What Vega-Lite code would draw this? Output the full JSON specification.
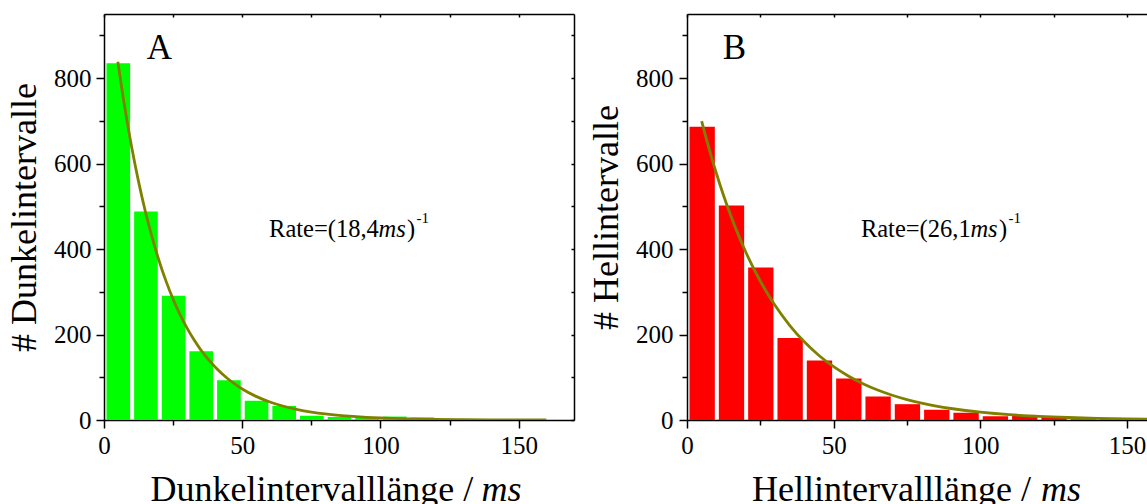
{
  "$schema": "https://vega.github.io/schema/vega-lite/v6.json",
  "background": "white",
  "padding": {"left": 6, "top": 13, "right": 0, "bottom": 0},
  "autosize": {"type": "pad"},
  "spacing": 13,
  "config": {
    "view": {"stroke": null},
    "font": "Liberation Serif",
    "style": {
      "guide-label": {"font": "Liberation Serif", "fontSize": 25, "fill": "black"},
      "guide-title": {"font": "Liberation Serif", "fontSize": 36, "fill": "black", "fontWeight": "normal"}
    },
    "axis": {
      "grid": false,
      "domainColor": "black",
      "tickColor": "black",
      "labelColor": "black",
      "titleColor": "black",
      "labelFont": "Liberation Serif",
      "titleFont": "Liberation Serif",
      "labelFontSize": 25,
      "titleFontSize": 36,
      "titleFontWeight": "normal",
      "domainWidth": 1.5,
      "tickWidth": 1.5,
      "labelPadding": 5
    },
    "text": {"font": "Liberation Serif", "color": "black"}
  },
  "hconcat": [
    {
      "width": 470,
      "height": 406,
      "resolve": {"axis": {"x": "independent", "y": "independent"}},
      "layer": [
        {
          "data": {"values": [
            {"start": 0, "end": 10, "count": 835},
            {"start": 10, "end": 20, "count": 488},
            {"start": 20, "end": 30, "count": 291},
            {"start": 30, "end": 40, "count": 161},
            {"start": 40, "end": 50, "count": 93},
            {"start": 50, "end": 60, "count": 45},
            {"start": 60, "end": 70, "count": 33},
            {"start": 70, "end": 80, "count": 10},
            {"start": 80, "end": 90, "count": 7},
            {"start": 90, "end": 100, "count": 5},
            {"start": 100, "end": 110, "count": 8},
            {"start": 110, "end": 120, "count": 6},
            {"start": 120, "end": 130, "count": 2},
            {"start": 130, "end": 140, "count": 1},
            {"start": 140, "end": 150, "count": 1},
            {"start": 150, "end": 160, "count": 2}
          ]},
          "mark": {"type": "bar", "color": "#00ff00", "binSpacing": 4, "clip": true},
          "encoding": {
            "x": {"field": "start", "type": "quantitative", "bin": "binned",
              "scale": {"domain": [0, 170], "nice": false, "zero": false},
              "axis": {"orient": "bottom", "values": [0, 50, 100, 150], "tickSize": 8, "title": null, "labelFlush": false, "labelFont": "Liberation Serif", "labelFontSize": 25, "labelColor": "black", "labelPadding": 5}},
            "x2": {"field": "end"},
            "y": {"field": "count", "type": "quantitative",
              "scale": {"domain": [0, 950], "nice": false},
              "axis": {"orient": "left", "values": [0, 200, 400, 600, 800], "tickSize": 8, "title": "# Dunkelintervalle", "titlePadding": 10, "labelFont": "Liberation Serif", "labelFontSize": 25, "labelColor": "black", "labelPadding": 5, "titleFont": "Liberation Serif", "titleFontSize": 36, "titleFontWeight": "normal", "titleColor": "black"}}
          }
        },
        {
          "data": {"values": [
            {"x": 5, "y": 838.3}, {"x": 7.5, "y": 731.7}, {"x": 10, "y": 638.8}, {"x": 12.5, "y": 557.7},
            {"x": 15, "y": 486.8}, {"x": 17.5, "y": 424.9}, {"x": 20, "y": 370.9}, {"x": 22.5, "y": 323.8},
            {"x": 25, "y": 282.7}, {"x": 27.5, "y": 246.8}, {"x": 30, "y": 215.5}, {"x": 32.5, "y": 188.1},
            {"x": 35, "y": 164.1}, {"x": 40, "y": 125.1}, {"x": 45, "y": 95.3}, {"x": 50, "y": 72.6},
            {"x": 55, "y": 55.3}, {"x": 60, "y": 42.2}, {"x": 65, "y": 32.2}, {"x": 70, "y": 24.5},
            {"x": 75, "y": 18.7}, {"x": 80, "y": 14.2}, {"x": 85, "y": 10.8}, {"x": 90, "y": 8.3},
            {"x": 95, "y": 6.3}, {"x": 100, "y": 4.8}, {"x": 110, "y": 2.8}, {"x": 120, "y": 1.6},
            {"x": 130, "y": 0.9}, {"x": 140, "y": 0.5}, {"x": 150, "y": 0.3}, {"x": 160, "y": 0.2}
          ]},
          "mark": {"type": "line", "color": "#808000", "strokeWidth": 2.8, "interpolate": "monotone", "clip": true},
          "encoding": {
            "x": {"field": "x", "type": "quantitative",
              "axis": {"orient": "bottom", "values": [25, 75, 125], "tickSize": 5, "labels": false, "domain": false, "title": null}},
            "y": {"field": "y", "type": "quantitative",
              "axis": {"orient": "left", "values": [100, 300, 500, 700, 900], "tickSize": 5, "labels": false, "domain": false, "title": null}}
          }
        },
        {
          "data": {"values": [{"x": 0, "y": 0}, {"x": 170, "y": 950}]},
          "mark": {"type": "line", "opacity": 0},
          "encoding": {
            "x": {"field": "x", "type": "quantitative",
              "axis": {"orient": "top", "values": [0, 25, 50, 75, 100, 125, 150], "tickSize": -3, "labels": false, "title": null}},
            "y": {"field": "y", "type": "quantitative",
              "axis": {"orient": "right", "values": [0, 100, 200, 300, 400, 500, 600, 700, 800, 900], "tickSize": -3, "labels": false, "title": null}}
          }
        },
        {
          "data": {"values": [{}]},
          "mark": {"type": "text", "text": "A", "fontSize": 35, "align": "left", "baseline": "alphabetic"},
          "encoding": {"x": {"datum": 15.5, "type": "quantitative", "axis": null}, "y": {"datum": 845, "type": "quantitative", "axis": null}}
        },
        {
          "data": {"values": [{}]},
          "mark": {"type": "text", "text": "Rate=(18,4", "fontSize": 24.5, "align": "left", "baseline": "alphabetic"},
          "encoding": {"x": {"datum": 59.7, "type": "quantitative", "axis": null}, "y": {"datum": 428, "type": "quantitative", "axis": null}}
        },
        {
          "data": {"values": [{}]},
          "mark": {"type": "text", "text": "ms", "fontSize": 24.5, "fontStyle": "italic", "align": "left", "baseline": "alphabetic", "dx": 109.5},
          "encoding": {"x": {"datum": 59.7, "type": "quantitative", "axis": null}, "y": {"datum": 428, "type": "quantitative", "axis": null}}
        },
        {
          "data": {"values": [{}]},
          "mark": {"type": "text", "text": ")", "fontSize": 24.5, "align": "left", "baseline": "alphabetic", "dx": 138},
          "encoding": {"x": {"datum": 59.7, "type": "quantitative", "axis": null}, "y": {"datum": 428, "type": "quantitative", "axis": null}}
        },
        {
          "data": {"values": [{}]},
          "mark": {"type": "text", "text": "-1", "fontSize": 15, "align": "left", "baseline": "alphabetic", "dx": 147.5, "dy": -14},
          "encoding": {"x": {"datum": 59.7, "type": "quantitative", "axis": null}, "y": {"datum": 428, "type": "quantitative", "axis": null}}
        },
        {
          "data": {"values": [{}]},
          "mark": {"type": "text", "text": "Dunkelintervalllänge /", "fontSize": 36, "align": "right", "baseline": "alphabetic", "dy": 81},
          "encoding": {"x": {"datum": 133.6, "type": "quantitative", "axis": null}, "y": {"datum": 0, "type": "quantitative", "axis": null}}
        },
        {
          "data": {"values": [{}]},
          "mark": {"type": "text", "text": "ms", "fontSize": 36, "fontStyle": "italic", "align": "left", "baseline": "alphabetic", "dy": 81},
          "encoding": {"x": {"datum": 136.5, "type": "quantitative", "axis": null}, "y": {"datum": 0, "type": "quantitative", "axis": null}}
        }
      ]
    },
    {
      "width": 461,
      "height": 406,
      "resolve": {"axis": {"x": "independent", "y": "independent"}},
      "layer": [
        {
          "data": {"values": [
            {"start": 0, "end": 10, "count": 686},
            {"start": 10, "end": 20, "count": 502},
            {"start": 20, "end": 30, "count": 357},
            {"start": 30, "end": 40, "count": 192},
            {"start": 40, "end": 50, "count": 139},
            {"start": 50, "end": 60, "count": 97},
            {"start": 60, "end": 70, "count": 55},
            {"start": 70, "end": 80, "count": 37},
            {"start": 80, "end": 90, "count": 24},
            {"start": 90, "end": 100, "count": 17},
            {"start": 100, "end": 110, "count": 9},
            {"start": 110, "end": 120, "count": 12},
            {"start": 120, "end": 130, "count": 8},
            {"start": 130, "end": 140, "count": 2},
            {"start": 140, "end": 150, "count": 3},
            {"start": 150, "end": 160, "count": 3}
          ]},
          "mark": {"type": "bar", "color": "#ff0000", "binSpacing": 4, "clip": true},
          "encoding": {
            "x": {"field": "start", "type": "quantitative", "bin": "binned",
              "scale": {"domain": [0, 157.2], "nice": false, "zero": false},
              "axis": {"orient": "bottom", "values": [0, 50, 100, 150], "tickSize": 8, "title": null, "labelFlush": false, "labelFont": "Liberation Serif", "labelFontSize": 25, "labelColor": "black", "labelPadding": 5}},
            "x2": {"field": "end"},
            "y": {"field": "count", "type": "quantitative",
              "scale": {"domain": [0, 950], "nice": false},
              "axis": {"orient": "left", "values": [0, 200, 400, 600, 800], "tickSize": 8, "title": "# Hellintervalle", "titlePadding": 10, "labelFont": "Liberation Serif", "labelFontSize": 25, "labelColor": "black", "labelPadding": 6, "titleFont": "Liberation Serif", "titleFontSize": 36, "titleFontWeight": "normal", "titleColor": "black"}}
          }
        },
        {
          "data": {"values": [
            {"x": 5, "y": 699.4}, {"x": 7.5, "y": 635.4}, {"x": 10, "y": 577.4}, {"x": 12.5, "y": 524.7},
            {"x": 15, "y": 476.8}, {"x": 17.5, "y": 433.2}, {"x": 20, "y": 393.6}, {"x": 22.5, "y": 357.7},
            {"x": 25, "y": 325.0}, {"x": 27.5, "y": 295.3}, {"x": 30, "y": 268.3}, {"x": 35, "y": 221.6},
            {"x": 40, "y": 182.9}, {"x": 45, "y": 151.0}, {"x": 50, "y": 124.7}, {"x": 55, "y": 103.0},
            {"x": 60, "y": 85.0}, {"x": 65, "y": 70.2}, {"x": 70, "y": 57.9}, {"x": 75, "y": 47.8},
            {"x": 80, "y": 39.5}, {"x": 85, "y": 32.6}, {"x": 90, "y": 26.9}, {"x": 95, "y": 22.2},
            {"x": 100, "y": 18.4}, {"x": 105, "y": 15.2}, {"x": 110, "y": 12.5}, {"x": 120, "y": 8.5},
            {"x": 130, "y": 5.8}, {"x": 140, "y": 4.0}, {"x": 150, "y": 2.7}, {"x": 160, "y": 1.9}
          ]},
          "mark": {"type": "line", "color": "#808000", "strokeWidth": 2.8, "interpolate": "monotone", "clip": true},
          "encoding": {
            "x": {"field": "x", "type": "quantitative",
              "axis": {"orient": "bottom", "values": [25, 75, 125], "tickSize": 5, "labels": false, "domain": false, "title": null}},
            "y": {"field": "y", "type": "quantitative",
              "axis": {"orient": "left", "values": [100, 300, 500, 700, 900], "tickSize": 5, "labels": false, "domain": false, "title": null}}
          }
        },
        {
          "data": {"values": [{"x": 0, "y": 0}, {"x": 150, "y": 950}]},
          "mark": {"type": "line", "opacity": 0},
          "encoding": {
            "x": {"field": "x", "type": "quantitative",
              "axis": {"orient": "top", "values": [0, 25, 50, 75, 100, 125, 150], "tickSize": -3, "labels": false, "title": null}},
            "y": {"field": "y", "type": "quantitative", "axis": null}
          }
        },
        {
          "data": {"values": [{}]},
          "mark": {"type": "text", "text": "B", "fontSize": 35, "align": "left", "baseline": "alphabetic"},
          "encoding": {"x": {"datum": 12.2, "type": "quantitative", "axis": null}, "y": {"datum": 845, "type": "quantitative", "axis": null}}
        },
        {
          "data": {"values": [{}]},
          "mark": {"type": "text", "text": "Rate=(26,1", "fontSize": 24.5, "align": "left", "baseline": "alphabetic"},
          "encoding": {"x": {"datum": 59.3, "type": "quantitative", "axis": null}, "y": {"datum": 428, "type": "quantitative", "axis": null}}
        },
        {
          "data": {"values": [{}]},
          "mark": {"type": "text", "text": "ms", "fontSize": 24.5, "fontStyle": "italic", "align": "left", "baseline": "alphabetic", "dx": 109.5},
          "encoding": {"x": {"datum": 59.3, "type": "quantitative", "axis": null}, "y": {"datum": 428, "type": "quantitative", "axis": null}}
        },
        {
          "data": {"values": [{}]},
          "mark": {"type": "text", "text": ")", "fontSize": 24.5, "align": "left", "baseline": "alphabetic", "dx": 138},
          "encoding": {"x": {"datum": 59.3, "type": "quantitative", "axis": null}, "y": {"datum": 428, "type": "quantitative", "axis": null}}
        },
        {
          "data": {"values": [{}]},
          "mark": {"type": "text", "text": "-1", "fontSize": 15, "align": "left", "baseline": "alphabetic", "dx": 147.5, "dy": -14},
          "encoding": {"x": {"datum": 59.3, "type": "quantitative", "axis": null}, "y": {"datum": 428, "type": "quantitative", "axis": null}}
        },
        {
          "data": {"values": [{}]},
          "mark": {"type": "text", "text": "Hellintervalllänge /", "fontSize": 36, "align": "right", "baseline": "alphabetic", "dy": 81},
          "encoding": {"x": {"datum": 117.3, "type": "quantitative", "axis": null}, "y": {"datum": 0, "type": "quantitative", "axis": null}}
        },
        {
          "data": {"values": [{}]},
          "mark": {"type": "text", "text": "ms", "fontSize": 36, "fontStyle": "italic", "align": "left", "baseline": "alphabetic", "dy": 81},
          "encoding": {"x": {"datum": 120.7, "type": "quantitative", "axis": null}, "y": {"datum": 0, "type": "quantitative", "axis": null}}
        }
      ]
    }
  ]
}
